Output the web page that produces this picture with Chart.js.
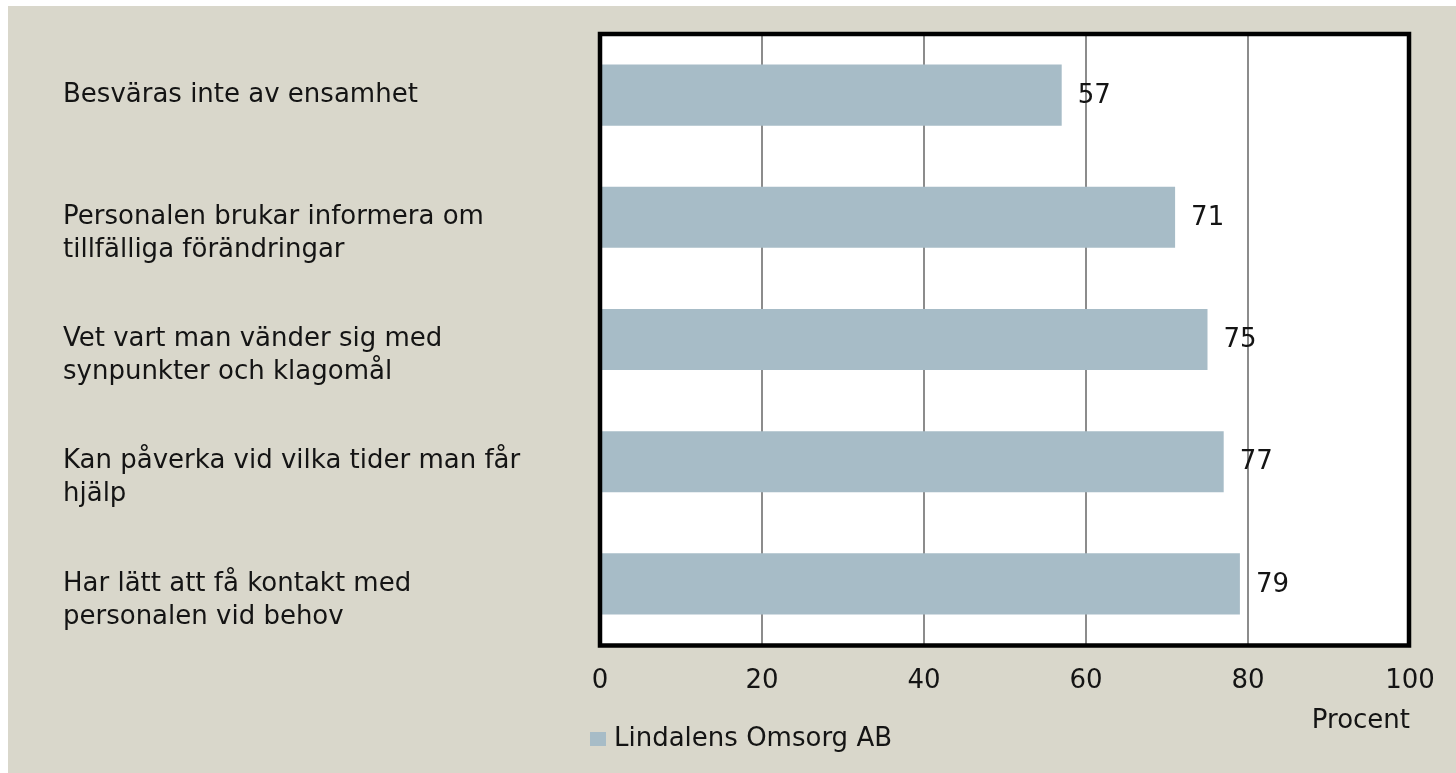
<!DOCTYPE html>
<html>
<head>
<meta charset="utf-8">
<script src="https://cdn.jsdelivr.net/npm/chart.js@4.4.1/dist/chart.umd.min.js"></script>
<style>
  html, body { margin: 0; padding: 0; background: #ffffff; }
  #wrap { position: absolute; left: 0; top: 0; width: 1456px; height: 773px; }
</style>
</head>
<body>
<div id="wrap"><canvas id="c" width="1456" height="773"></canvas></div>
<script>
const categories = [
  ["Besväras inte av ensamhet"],
  ["Personalen brukar informera om", "tillfälliga förändringar"],
  ["Vet vart man vänder sig med", "synpunkter och klagomål"],
  ["Kan påverka vid vilka tider man får", "hjälp"],
  ["Har lätt att få kontakt med", "personalen vid behov"]
];
const values = [57, 71, 75, 77, 79];
const seriesName = "Lindalens Omsorg AB";
const xTickValues = [0, 20, 40, 60, 80, 100];
const xAxisTitle = "Procent";

const FONT = "'DejaVu Sans', sans-serif";
const BEIGE = "#d9d7cb";
const BAR = "#a7bcc7";
const TEXT = "#141414";

const bgPlugin = {
  id: 'bg',
  beforeDraw(chart) {
    const ctx = chart.ctx, a = chart.chartArea;
    ctx.save();
    ctx.fillStyle = BEIGE;
    ctx.fillRect(8, 6, chart.width - 8, chart.height - 6);
    ctx.fillStyle = "#ffffff";
    ctx.fillRect(a.left, a.top, a.right - a.left, a.bottom - a.top);
    ctx.restore();
  }
};

const framePlugin = {
  id: 'frame',
  afterDatasetsDraw(chart) {
    const ctx = chart.ctx, a = chart.chartArea;
    ctx.save();
    // value labels
    const meta = chart.getDatasetMeta(0);
    ctx.font = "26px " + FONT;
    ctx.fillStyle = TEXT;
    ctx.textAlign = 'left';
    ctx.textBaseline = 'middle';
    meta.data.forEach((bar, i) => {
      ctx.fillText(String(chart.data.datasets[0].data[i]), bar.x + 16, bar.y + 1);
    });
    // plot frame
    ctx.strokeStyle = "#000000";
    ctx.lineWidth = 4.5;
    ctx.strokeRect(a.left, a.top, a.right - a.left - 1, a.bottom - a.top + 0.5);
    // legend
    const ds = chart.data.datasets[0];
    ctx.fillStyle = ds.backgroundColor;
    ctx.fillRect(590, 732, 16, 14);
    ctx.fillStyle = TEXT;
    ctx.fillText(ds.label, 614, 739);
    ctx.restore();
  }
};

new Chart(document.getElementById('c'), {
  type: 'bar',
  data: {
    labels: categories,
    datasets: [{
      label: seriesName,
      data: values,
      backgroundColor: BAR,
      borderWidth: 0,
      categoryPercentage: 1.0,
      barPercentage: 0.5
    }]
  },
  options: {
    indexAxis: 'y',
    responsive: false,
    animation: false,
    layout: { padding: { left: 63, right: 46, top: 34, bottom: 0 } },
    plugins: {
      legend: { display: false },
      tooltip: { enabled: false }
    },
    scales: {
      x: {
        min: xTickValues[0],
        max: xTickValues[xTickValues.length - 1],
        afterBuildTicks(scale) { scale.ticks = xTickValues.map(v => ({ value: v })); },
        afterFit(scale) { scale.height = 128; scale.paddingLeft = 0; scale.paddingRight = 0; },
        grid: { color: "#8c8c8c", lineWidth: 2, drawTicks: false },
        border: { display: false },
        ticks: { color: TEXT, font: { family: FONT, size: 26 }, padding: 21, maxRotation: 0 },
        title: {
          display: true, text: xAxisTitle, align: 'end', color: TEXT,
          font: { family: FONT, size: 26 }, padding: { top: 0, bottom: 36 }
        }
      },
      y: {
        afterFit(scale) { scale.width = 537; scale.paddingTop = 0; scale.paddingBottom = 0; },
        grid: { display: false },
        border: { display: false },
        ticks: {
          color: TEXT,
          crossAlign: 'far',
          padding: 0,
          font: { family: FONT, size: 26, lineHeight: 33 / 26 },
          callback(value, index) {
            const lines = categories[index];
            return lines.length > 1 ? [""].concat(lines) : lines;
          }
        }
      }
    }
  },
  plugins: [bgPlugin, framePlugin]
});
</script>
</body>
</html>
